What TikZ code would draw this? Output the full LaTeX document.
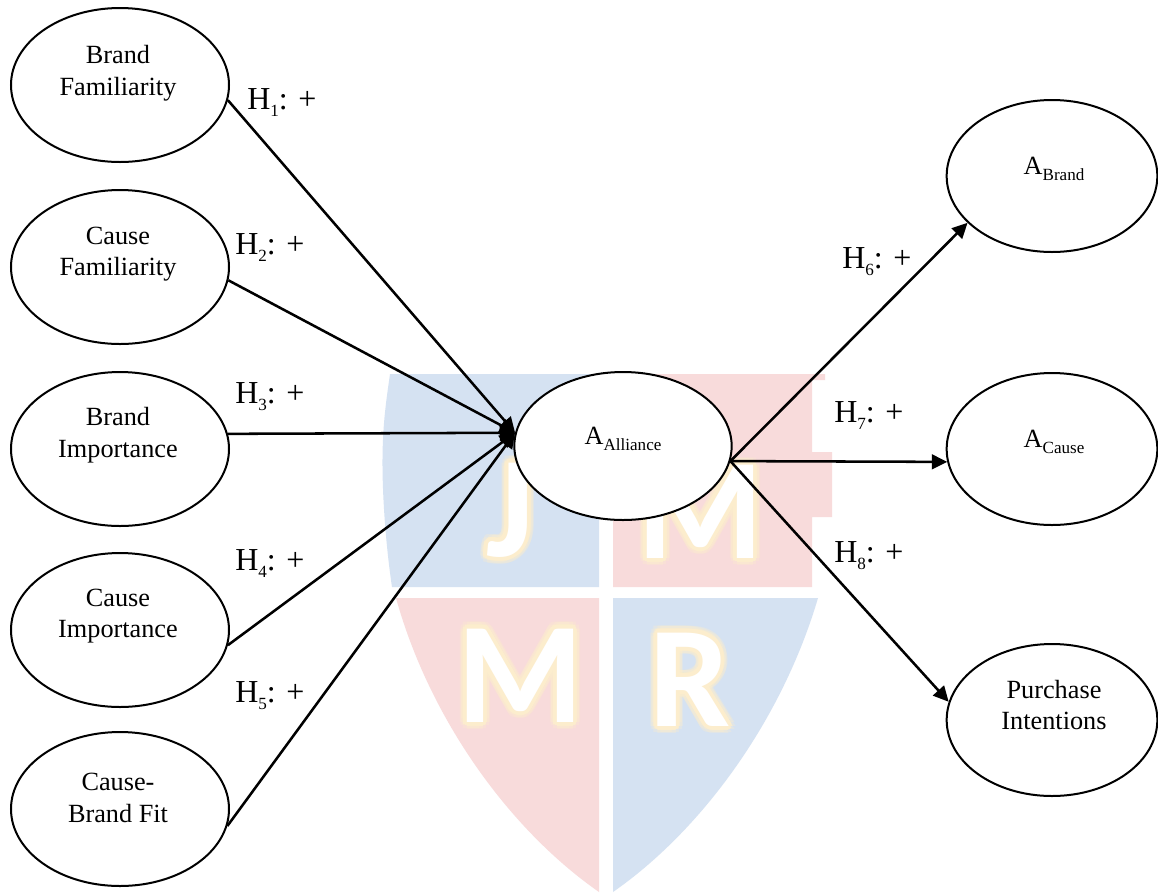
\documentclass[tikz,border=0pt]{standalone}
\usepackage{fontspec}
\setmainfont{Liberation Serif}
\newfontfamily\crestfont[Scale=1]{Carlito}
\usetikzlibrary{arrows.meta,shapes.geometric}
\definecolor{crestblue}{RGB}{213,226,242}
\definecolor{crestred}{RGB}{248,219,219}
\definecolor{crestglow}{RGB}{253,238,205}
\newcommand{\subs}[1]{\raisebox{-0.22em}{\fontsize{12.8pt}{14pt}\selectfont #1}}
\newcommand{\crestletter}[3]{%
  \foreach \ang in {0,30,...,330}{
    \node[crestglyph,text=crestglow,opacity=0.3] at ([shift={(\ang:7)}]#1,#2) {#3};
  }
  \foreach \ang in {0,30,...,330}{
    \node[crestglyph,text=crestglow,opacity=0.8] at ([shift={(\ang:4)}]#1,#2) {#3};
  }
  \node[crestglyph,text=white] at (#1,#2) {#3};
}
\tikzset{
  x=0.75pt,y=-0.75pt,
  crestglyph/.style={anchor=base,inner sep=0pt,font=\crestfont\bfseries\fontsize{108pt}{108pt}\selectfont},
  oval/.style={draw=black,line width=1.5pt,fill=white,shape=ellipse,inner sep=0pt,minimum width=163.5pt,minimum height=115.5pt},
  txt/.style={align=center,inner sep=0pt,font=\fontsize{19.7pt}{23.6pt}\selectfont},
  hyp/.style={anchor=base west,inner sep=0pt,font=\fontsize{24pt}{28pt}\selectfont},
  link/.style={line width=1.9pt,-{Triangle[length=11.5pt,width=11pt]}}
}
\begin{document}
\begin{tikzpicture}
\useasboundingbox (0,0) rectangle (1158,894);
\fill[white] (0,0) rectangle (1158,894);
% crest
\fill[crestblue] (390,374) -- (599,374) -- (599,587) -- (392,587) .. controls (385,540) and (381,480) .. (383,440) .. controls (384,415) and (387,395) .. (390,374) -- cycle;
\fill[crestred] (613,374) -- (825,374) -- (825,380) -- (812,380) -- (812,452) -- (832,452) -- (832,517) -- (812,517) -- (812,587) -- (613,587) -- cycle;
\fill[crestred] (396,598) -- (599,598) -- (599,892) .. controls (510,830) and (430,720) .. (396,598) -- cycle;
\fill[crestblue] (613,598) -- (818,598) .. controls (782,720) and (702,830) .. (613,892) -- cycle;
\crestletter{510}{556}{J}
\crestletter{700}{558}{M}
\crestletter{520}{722}{M}
\crestletter{690}{726}{R}
% ovals
\node[oval] (bf) at (120,85) {};
\node[oval] (cf) at (120,267) {};
\node[oval] (bi) at (120,449) {};
\node[oval] (ci) at (120,630) {};
\node[oval] (cb) at (120,809) {};
\node[oval,minimum width=163pt,minimum height=111pt] (aa) at (623,446) {};
\node[oval,minimum width=158pt,minimum height=114pt] (ab) at (1052,176) {};
\node[oval,minimum width=158pt,minimum height=114pt] (ac) at (1052,449) {};
\node[oval,minimum width=158pt,minimum height=114pt] (pi) at (1052,720) {};
% oval texts
\node[txt] (tbf) at (118,73) {Brand\\Familiarity};
\node[txt] (tcf) at (118,254) {Cause\\Familiarity};
\node[txt] (tbi) at (118,435) {Brand\\Importance};
\node[txt] (tci) at (118,616) {Cause\\Importance};
\node[txt] (tcb) at (118,798) {Cause-\\Brand Fit};
\node[txt] (taa) at (623,439) {A\subs{Alliance}};
\node[txt] (tab) at (1054,169) {A\subs{Brand}};
\node[txt] (tac) at (1054,442) {A\subs{Cause}};
\node[txt] (tpi) at (1054,705) {Purchase\\Intentions};
% connectors
\draw[link] (bf.-8) -- (aa.173);
\draw[link] (cf.-7.5) -- (aa.173);
\draw[link] (bi.8.5) -- (aa.173);
\draw[link] (ci.-8) -- (aa.173);
\draw[link] (cb.-9) -- (aa.173);
\draw[link] (aa.-8.4) -- (ab.209);
\draw[link] (aa.-8.4) -- (ac.187);
\draw[link] (aa.-8.4) -- (pi.170);
% hypothesis labels
\node[hyp] (h1) at (247,109) {H\subs{1}: +};
\node[hyp] (h2) at (235,254) {H\subs{2}: +};
\node[hyp] (h3) at (235,403) {H\subs{3}: +};
\node[hyp] (h4) at (235,570) {H\subs{4}: +};
\node[hyp] (h5) at (235,702) {H\subs{5}: +};
\node[hyp] (h6) at (842,268) {H\subs{6}: +};
\node[hyp] (h7) at (834,422) {H\subs{7}: +};
\node[hyp] (h8) at (834,562) {H\subs{8}: +};
\end{tikzpicture}
\end{document}
